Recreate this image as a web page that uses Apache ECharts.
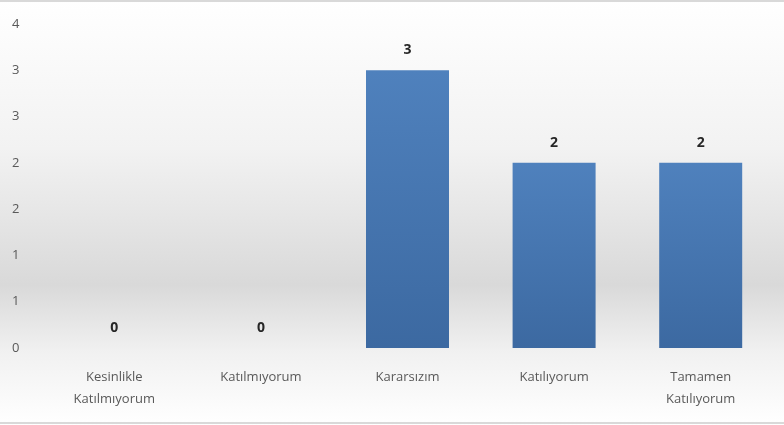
<!DOCTYPE html>
<html><head><meta charset="utf-8">
<script src="https://cdn.jsdelivr.net/npm/echarts@6/dist/echarts.min.js"></script>
<style>html,body{margin:0;padding:0;background:#fff}#c{width:784px;height:425px}</style>
</head><body><div id="c"></div>
<script>
const categories = ['Kesinlikle\nKatılmıyorum', 'Katılmıyorum', 'Kararsızım', 'Katılıyorum', 'Tamamen\nKatılıyorum'];
const values = [0, 0, 3, 2, 2];
const yTickLabels = ['0', '1', '1', '2', '2', '3', '3', '4'];

const chart = echarts.init(document.getElementById('c'), null, {renderer: 'canvas'});
chart.setOption({
  animation: false,
  backgroundColor: {
    type: 'linear', x: 0, y: 0, x2: 0, y2: 1,
    colorStops: [
      {offset: 0, color: '#ffffff'},
      {offset: 0.35, color: '#f2f2f2'},
      {offset: 0.67, color: '#d9d9d9'},
      {offset: 0.83, color: '#f1f1f1'},
      {offset: 1, color: '#ffffff'}
    ]
  },
  graphic: [
    {type: 'line', shape: {x1: 0, y1: 1, x2: 784, y2: 1}, style: {stroke: '#d9d9d9', lineWidth: 2}},
    {type: 'line', shape: {x1: 0, y1: 423, x2: 784, y2: 423}, style: {stroke: '#d9d9d9', lineWidth: 2}}
  ],
  grid: {left: 41, right: 10, top: 24, bottom: 77, containLabel: false},
  xAxis: {
    type: 'category',
    data: categories,
    axisLine: {show: false},
    axisTick: {show: false},
    axisLabel: {color: '#595959', fontSize: 13, fontFamily: 'Open Sans, sans-serif', margin: 18, lineHeight: 22, interval: 0}
  },
  yAxis: {
    type: 'value',
    min: 0, max: 3.5, interval: 0.5,
    splitLine: {show: false},
    axisLine: {show: false},
    axisTick: {show: false},
    axisLabel: {
      color: '#595959', fontSize: 13, fontFamily: 'Open Sans, sans-serif',
      align: 'left', margin: 29,
      formatter: function (v, i) { return yTickLabels[i]; }
    }
  },
  series: [{
    type: 'bar',
    data: values,
    barWidth: 83,
    itemStyle: {
      color: {
        type: 'linear', x: 0, y: 0, x2: 0, y2: 1,
        colorStops: [{offset: 0, color: '#4f81bd'}, {offset: 1, color: '#3c69a1'}]
      },
      borderWidth: 0
    },
    label: {
      show: true, position: 'top', distance: 13,
      color: '#262626', fontWeight: 'bold', fontSize: 14, fontFamily: 'Open Sans, sans-serif'
    }
  }]
});
</script></body></html>
